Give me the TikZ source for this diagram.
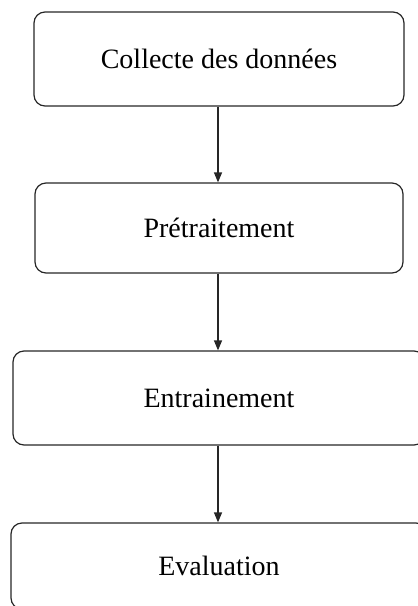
\documentclass[tikz,border=0pt]{standalone}
\usepackage{fontspec}
\setmainfont{Liberation Serif}
\usetikzlibrary{arrows.meta}
\begin{document}
\begin{tikzpicture}[x=1pt,y=-1pt,
  stage/.style={draw=black!85, line width=1.2pt, rounded corners=11pt,
    inner sep=0pt, font=\fontsize{28}{32}\selectfont},
  flow/.style={draw=black!85, line width=1.2pt, -{Triangle[length=10pt,width=8pt]}}]
  \useasboundingbox (0,0) rectangle (418,606);
  \clip (0,0) rectangle (418,606);
  \node[stage, minimum width=370pt, minimum height=94pt] (collect) at (219,59) {Collecte des données};
  \node[stage, minimum width=368pt, minimum height=90pt] (prep) at (219,228) {Prétraitement};
  \node[stage, minimum width=412pt, minimum height=94pt] (train) at (219,398) {Entrainement};
  \node[stage, minimum width=416pt, minimum height=86pt] (eval) at (219,566) {Evaluation};
  \draw[flow] (collect.south -| 218,0) -- (prep.north -| 218,0);
  \draw[flow] (prep.south -| 218,0) -- (train.north -| 218,0);
  \draw[flow] (train.south -| 218,0) -- (eval.north -| 218,0);
\end{tikzpicture}
\end{document}
